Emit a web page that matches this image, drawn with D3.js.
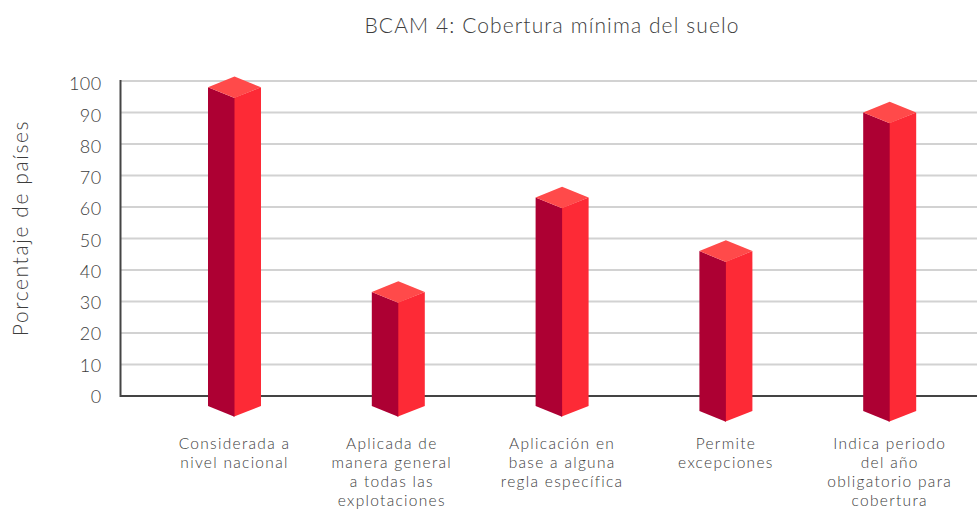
<!DOCTYPE html>
<html><head><meta charset="utf-8">
<script src="https://cdn.jsdelivr.net/npm/d3@7/dist/d3.min.js"></script>
<style>
html,body{margin:0;padding:0;background:#fff;overflow:hidden}
text{font-family:Lato,"Open Sans",sans-serif;fill:#3d3d3d;font-weight:300}
</style></head><body><svg id="c" width="977" height="509"></svg>
<script>
const categories = ["Considerada a","Aplicada de","Aplicación en","Permite","Indica periodo"];
const labelLines = [
  ["Considerada a","nivel nacional"],
  ["Aplicada de","manera general","a todas las","explotaciones"],
  ["Aplicación en","base a alguna","regla específica"],
  ["Permite","excepciones"],
  ["Indica periodo","del año","obligatorio para","cobertura"]
];
const values = [98, 33, 63, 46, 90];
const tickValues = [0,10,20,30,40,50,60,70,80,90,100];
const titleText = "BCAM 4: Cobertura mínima del suelo";
const yTitleText = "Porcentaje de países";

// layout only
const baseDrop = [10,10,10,15,15];
const labelShift = [0,-6.5,0,0,0];
const halfW = 26.5, depth = 10.8;

const svg = d3.select("#c");
const y = d3.scaleLinear().domain([0,100]).range([396,81]);
const yLabel = d3.scaleLinear().domain([0,100]).range([396.5,84]);
const x = d3.scaleBand().domain(categories).range([152.6,971.6]);
const cx = c => x(c) + x.bandwidth()/2;

const axis = svg.append("g").attr("transform","translate(120.5,0)")
  .call(d3.axisLeft(yLabel).tickValues(tickValues).tickSize(0).tickPadding(19).tickFormat(d3.format("d")));
axis.select(".domain").remove();
axis.selectAll("text").style("font-size","18px").style("letter-spacing","0.4px").attr("dy","0.32em");

svg.insert("g","g").selectAll("line").data(tickValues.filter(d=>d>0)).join("line")
  .attr("x1",121).attr("x2",977).attr("y1",d=>y(d)).attr("y2",d=>y(d))
  .attr("stroke","#d2d2d2").attr("stroke-width",2);

svg.append("line").attr("x1",120.5).attr("x2",120.5).attr("y1",y(100)-1).attr("y2",y(0)+1)
  .attr("stroke","#444").attr("stroke-width",2);
svg.append("line").attr("x1",120).attr("x2",977).attr("y1",y(0)).attr("y2",y(0))
  .attr("stroke","#444").attr("stroke-width",2);

const bars = svg.append("g").selectAll("g").data(categories).join("g");
const path = pts => "M" + pts.map(p=>p.join(",")).join("L") + "Z";
bars.append("path").attr("fill","#FD2A36").attr("d",(c,i)=>{
  const m=cx(c), t=y(values[i]), b=y(0)+baseDrop[i];
  return path([[m-1,t+depth],[m+halfW,t],[m+halfW,b],[m-1,b+depth]]);
});
bars.append("path").attr("fill","#AD0033").attr("d",(c,i)=>{
  const m=cx(c), t=y(values[i]), b=y(0)+baseDrop[i];
  return path([[m-halfW,t],[m,t+depth],[m,b+depth],[m-halfW,b]]);
});
bars.append("path").attr("fill","#FF4A4A").attr("d",(c,i)=>{
  const m=cx(c), t=y(values[i]);
  return path([[m-halfW,t],[m,t-depth],[m+halfW,t],[m,t+depth]]);
});

const labels = svg.append("g").selectAll("text").data(categories).join("text")
  .attr("text-anchor","middle").style("font-size","15.5px").style("letter-spacing","1.3px")
  .attr("transform",(c,i)=>`translate(${cx(c)+labelShift[i]},449)`);
labels.selectAll("tspan").data((c,i)=>labelLines[i]).join("tspan")
  .attr("x",0).attr("y",(d,i)=>i*18.9).text(d=>d);

svg.append("text").attr("x",552).attr("y",33).attr("text-anchor","middle")
  .style("font-size","21px").style("letter-spacing","1.1px").text(titleText);
svg.append("text").attr("transform","translate(28,228) rotate(-90)").attr("text-anchor","middle")
  .style("font-size","21px").style("letter-spacing","1.6px").text(yTitleText);
</script></body></html>
